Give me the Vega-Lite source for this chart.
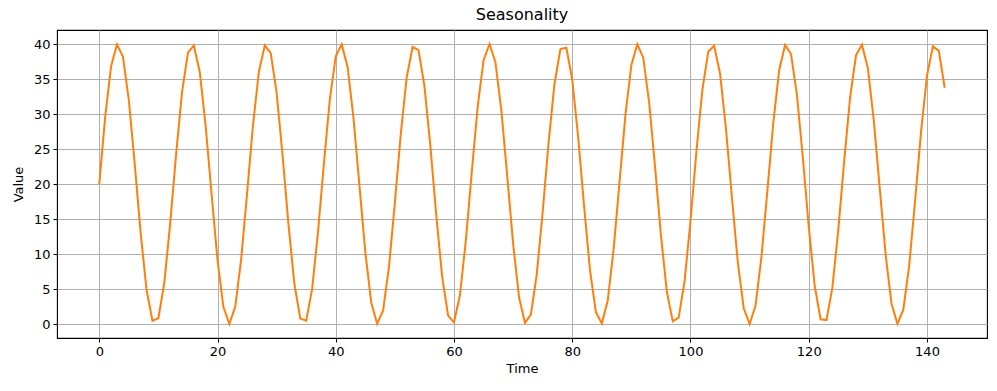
{
  "$schema": "https://vega.github.io/schema/vega-lite/v6.json",
  "autosize": "none",
  "padding": {"left": 57, "top": 30, "right": 10, "bottom": 53},
  "width": 930,
  "height": 308,
  "background": "white",
  "title": {"text": "Seasonality", "font": "DejaVu Sans", "fontSize": 16, "fontWeight": "normal", "color": "black", "offset": 7},
  "config": {
    "view": {"stroke": "black", "strokeWidth": 1.1},
    "axis": {
      "labelFont": "DejaVu Sans", "labelFontSize": 13, "labelColor": "black",
      "titleFont": "DejaVu Sans", "titleFontSize": 13, "titleFontWeight": "normal", "titleColor": "black",
      "gridColor": "#b0b0b0", "gridWidth": 1, "gridOpacity": 1,
      "tickColor": "black", "tickSize": 4, "domain": false, "labelPadding": 3
    }
  },
  "data": {"values": [
    {"t":0,"v":20},{"t":1,"v":29.59},{"t":2,"v":36.83},{"t":3,"v":39.95},{"t":4,"v":38.19},{"t":5,"v":31.97},{"t":6,"v":22.82},{"t":7,"v":12.98},{"t":8,"v":4.86},{"t":9,"v":0.45},
    {"t":10,"v":0.82},{"t":11,"v":5.89},{"t":12,"v":14.41},{"t":13,"v":24.30},{"t":14,"v":33.14},{"t":15,"v":38.76},{"t":16,"v":39.79},{"t":17,"v":35.97},{"t":18,"v":28.24},{"t":19,"v":18.50},
    {"t":20,"v":9.12},{"t":21,"v":2.41},{"t":22,"v":0.00},{"t":23,"v":2.49},{"t":24,"v":9.27},{"t":25,"v":18.67},{"t":26,"v":28.40},{"t":27,"v":36.08},{"t":28,"v":39.81},{"t":29,"v":38.70},
    {"t":30,"v":33.01},{"t":31,"v":24.13},{"t":32,"v":14.24},{"t":33,"v":5.75},{"t":34,"v":0.77},{"t":35,"v":0.49},{"t":36,"v":4.98},{"t":37,"v":13.15},{"t":38,"v":23.00},{"t":39,"v":32.11},
    {"t":40,"v":38.26},{"t":41,"v":39.94},{"t":42,"v":36.73},{"t":43,"v":29.41},{"t":44,"v":19.82},{"t":45,"v":10.26},{"t":46,"v":3.08},{"t":47,"v":0.04},{"t":48,"v":1.89},{"t":49,"v":8.17},
    {"t":50,"v":17.35},{"t":51,"v":27.18},{"t":52,"v":35.25},{"t":53,"v":39.59},{"t":54,"v":39.13},{"t":55,"v":33.98},{"t":56,"v":25.42},{"t":57,"v":15.54},{"t":58,"v":6.73},{"t":59,"v":1.19},
    {"t":60,"v":0.24},{"t":61,"v":4.14},{"t":62,"v":11.92},{"t":63,"v":21.68},{"t":64,"v":31.03},{"t":65,"v":37.68},{"t":66,"v":40.00},{"t":67,"v":37.41},{"t":68,"v":30.58},{"t":69,"v":21.15},
    {"t":70,"v":11.44},{"t":71,"v":3.82},{"t":72,"v":0.16},{"t":73,"v":1.34},{"t":74,"v":7.13},{"t":75,"v":16.04},{"t":76,"v":25.93},{"t":77,"v":34.36},{"t":78,"v":39.28},{"t":79,"v":39.47},
    {"t":80,"v":34.90},{"t":81,"v":26.69},{"t":82,"v":16.83},{"t":83,"v":7.70},{"t":84,"v":1.67},{"t":85,"v":0.08},{"t":86,"v":3.36},{"t":87,"v":10.73},{"t":88,"v":20.35},{"t":89,"v":29.90},
    {"t":90,"v":37.02},{"t":91,"v":39.97},{"t":92,"v":38.04},{"t":93,"v":31.68},{"t":94,"v":22.47},{"t":95,"v":12.65},{"t":96,"v":4.63},{"t":97,"v":0.37},{"t":98,"v":0.92},{"t":99,"v":6.14},
    {"t":100,"v":14.75},{"t":101,"v":24.65},{"t":102,"v":33.40},{"t":103,"v":38.88},{"t":104,"v":39.73},{"t":105,"v":35.75},{"t":106,"v":27.92},{"t":107,"v":18.14},{"t":108,"v":8.82},{"t":109,"v":2.25},
    {"t":110,"v":0.00},{"t":111,"v":2.65},{"t":112,"v":9.57},{"t":113,"v":19.03},{"t":114,"v":28.72},{"t":115,"v":36.29},{"t":116,"v":39.85},{"t":117,"v":38.57},{"t":118,"v":32.73},{"t":119,"v":23.79},
    {"t":120,"v":13.90},{"t":121,"v":5.51},{"t":122,"v":0.68},{"t":123,"v":0.56},{"t":124,"v":5.22},{"t":125,"v":13.48},{"t":126,"v":23.35},{"t":127,"v":32.40},{"t":128,"v":38.40},{"t":129,"v":39.90},
    {"t":130,"v":36.54},{"t":131,"v":29.09},{"t":132,"v":19.47},{"t":133,"v":9.94},{"t":134,"v":2.89},{"t":135,"v":0.02},{"t":136,"v":2.04},{"t":137,"v":8.46},{"t":138,"v":17.71},{"t":139,"v":27.51},
    {"t":140,"v":35.48},{"t":141,"v":39.66},{"t":142,"v":39.02},{"t":143,"v":33.72}
  ]},
  "mark": {"type": "line", "color": "#ff7f0e", "strokeWidth": 2, "clip": true},
  "encoding": {
    "x": {"field": "t", "type": "quantitative", "title": "Time",
      "scale": {"domain": [-7.15, 150.15], "nice": false, "zero": false},
      "axis": {"values": [0,20,40,60,80,100,120,140], "titlePadding": 4}},
    "y": {"field": "v", "type": "quantitative", "title": "Value",
      "scale": {"domain": [-2, 42], "nice": false, "zero": false},
      "axis": {"values": [0,5,10,15,20,25,30,35,40], "titlePadding": 8}}
  }
}
